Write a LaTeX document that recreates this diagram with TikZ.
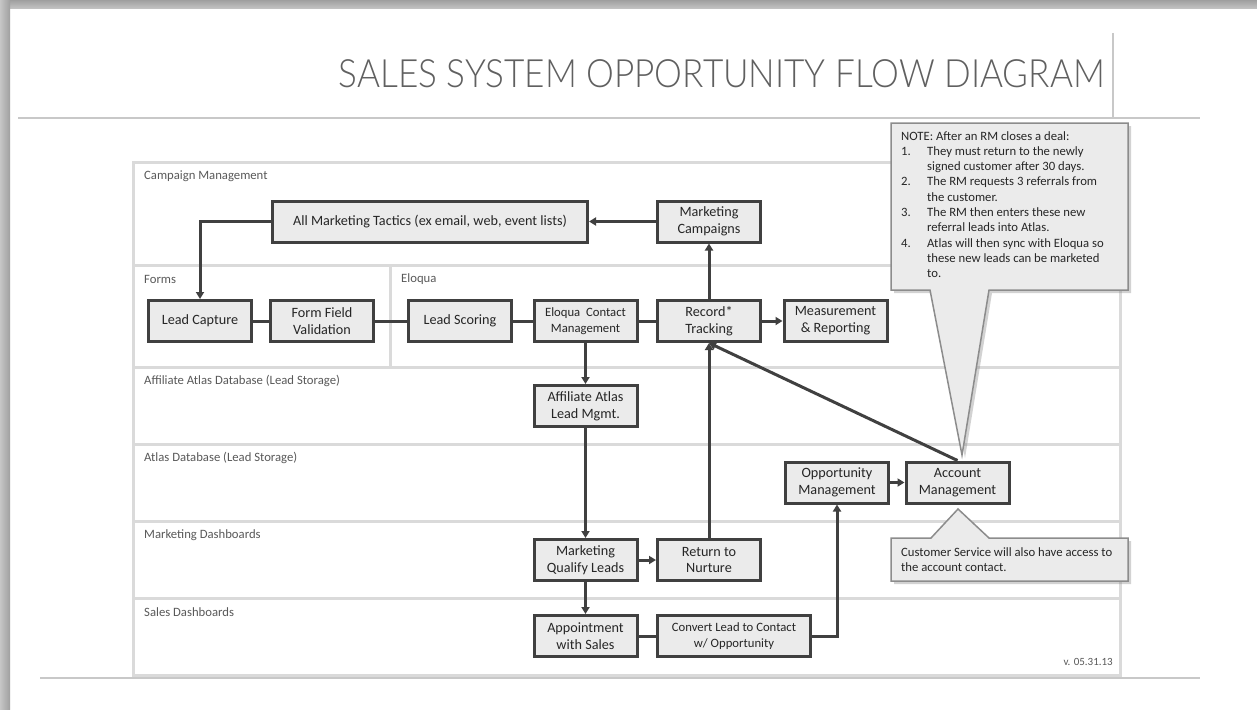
\documentclass[tikz,border=0pt]{standalone}
\usepackage{fontspec}
\setmainfont{Carlito}
\newfontfamily\titlefont[UprightFont={* Light}]{Lato}
\usetikzlibrary{arrows.meta,shadows}
\definecolor{boxfill}{HTML}{EBEBEB}
\definecolor{boxline}{HTML}{404040}
\definecolor{lanec}{HTML}{DADADA}
\definecolor{labelc}{HTML}{595959}
\definecolor{titlec}{HTML}{606060}
\definecolor{textc}{HTML}{262626}
\definecolor{callfill}{HTML}{EBEBEB}
\definecolor{callline}{HTML}{8C8C8C}
\definecolor{rulec}{HTML}{C8C8C8}
\begin{document}
\begin{tikzpicture}[x=1pt,y=-1pt,
  procbox/.style={draw=boxline, fill=boxfill, line width=3pt, minimum width=103pt, minimum height=41pt, inner sep=0pt, align=center, text=textc, font=\fontsize{14.2}{16.7}\selectfont},
  smallbox/.style={procbox, font=\fontsize{12.7}{15.5}\selectfont},
  conn/.style={draw=boxline, line width=3pt},
  arr/.style={conn, -{Triangle[length=7pt,width=8pt]}},
  lanelabel/.style={anchor=west, inner sep=0pt, text=labelc, font=\fontsize{12.7}{15}\selectfont},
  lane/.style={draw=lanec, line width=3pt},
  callout/.style={fill=callfill, draw=callline, line width=1.5pt, drop shadow={shadow xshift=3pt, shadow yshift=-3pt, opacity=0.35}},
  calltext/.style={anchor=north west, inner sep=0pt, align=left, text=textc, font=\fontsize{12.7}{15.3}\selectfont},
  rule/.style={draw=rulec, line width=1.2pt}
]
\useasboundingbox (0,0) rectangle (1257,709);
\fill[white] (0,0) rectangle (1257,709);
% slide shadow
\shade[top color=gray!75, bottom color=gray!45] (0,0) rectangle (1257,9);
\shade[left color=gray!45, right color=gray!75] (0,0) rectangle (10,709);
% title and rules
\node[anchor=base east, inner sep=0pt, text=titlec] (title) at (1105,87) {\resizebox{766pt}{\height}{\titlefont\fontsize{39}{44}\selectfont SALES SYSTEM OPPORTUNITY FLOW DIAGRAM}};
\draw[rule] (18,118) -- (1200,118);
\draw[rule] (1113,33) -- (1113,118);
\draw[rule] (40,678) -- (1200,678);
% lanes
\draw[lane] (133,162) rectangle (1120,675);
\foreach \yy in {265,367,444,521,598} \draw[lane] (133,\yy) -- (1120,\yy);
\draw[lane] (390,265) -- (390,367);
\node[lanelabel] (l1) at (144,176) {Campaign Management};
\node[lanelabel] (l2) at (144,279) {Forms};
\node[lanelabel] (l3) at (401,279) {Eloqua};
\node[lanelabel] (l4) at (144,381) {Affiliate Atlas Database (Lead Storage)};
\node[lanelabel] (l5) at (144,458) {Atlas Database (Lead Storage)};
\node[lanelabel] (l6) at (144,535) {Marketing Dashboards};
\node[lanelabel] (l7) at (144,612) {Sales Dashboards};
% nodes
\node[procbox, minimum width=315pt] (tactics) at (430,221.5) {All Marketing Tactics (ex email, web, event lists)};
\node[procbox] (campaigns) at (709,221.5) {Marketing\\Campaigns};
\node[procbox] (capture) at (200,321) {Lead Capture};
\node[procbox] (ffv) at (322,321) {Form Field\\Validation};
\node[procbox] (scoring) at (460,321) {Lead Scoring};
\node[smallbox] (eloqua) at (585.5,321) {Eloqua\ \ Contact\\Management};
\node[procbox] (record) at (709,321) {Record*\\Tracking};
\node[procbox] (measure) at (835.5,321) {Measurement\\\& Reporting};
\node[procbox] (affiliate) at (585.5,406) {Affiliate Atlas\\Lead Mgmt.};
\node[procbox] (opp) at (837,482.5) {Opportunity\\Management};
\node[procbox] (account) at (957.5,482.5) {Account\\Management};
\node[procbox] (mql) at (585.5,560) {Marketing\\Qualify Leads};
\node[procbox] (nurture) at (709,560) {Return to\\Nurture};
\node[procbox] (appt) at (585.5,636) {Appointment\\with Sales};
\node[smallbox, minimum width=153pt] (convert) at (734,636) {Convert Lead to Contact\\w/ Opportunity};
% connectors
\draw[arr] (campaigns) -- (tactics);
\draw[arr] (tactics.west) -| (capture.north);
\draw[conn] (capture) -- (ffv);
\draw[conn] (ffv) -- (scoring);
\draw[conn] (scoring) -- (eloqua);
\draw[conn] (eloqua) -- (record);
\draw[arr] (record) -- (campaigns);
\draw[arr] (record) -- (measure);
\draw[arr] (eloqua) -- (affiliate);
\draw[arr] (affiliate) -- (mql);
\draw[arr] (mql) -- (nurture);
\draw[arr] (nurture) -- (record);
\draw[arr] (mql) -- (appt);
\draw[conn] (appt) -- (convert);
\draw[arr] (convert.east) -| (opp.south);
\draw[arr] (opp) -- (account);
\draw[arr] (account.north) -- (record.south);
% callouts
\path[callout] (891,123) -- (1128,123) -- (1128,290) -- (989,290) -- (962,455) -- (930,290) -- (891,290) -- cycle;
\node[calltext] (notetxt) at (901,131) {NOTE: After an RM closes a deal:\\
\makebox[26pt][l]{1.}They must return to the newly\\
\hspace*{26pt}signed customer after 30 days.\\
\makebox[26pt][l]{2.}The RM requests 3 referrals from\\
\hspace*{26pt}the customer.\\
\makebox[26pt][l]{3.}The RM then enters these new\\
\hspace*{26pt}referral leads into Atlas.\\
\makebox[26pt][l]{4.}Atlas will then sync with Eloqua so\\
\hspace*{26pt}these new leads can be marketed\\
\hspace*{26pt}to.};
\path[callout] (891,538) -- (931,538) -- (958,509) -- (989,538) -- (1128,538) -- (1128,581) -- (891,581) -- cycle;
\node[calltext] (cstxt) at (901,547) {Customer Service will also have access to\\the account contact.};
\node[anchor=base east, inner sep=0pt, text=labelc, font=\fontsize{11}{13}\selectfont] (ver) at (1113,665) {v. 05.31.13};
\end{tikzpicture}
\end{document}
